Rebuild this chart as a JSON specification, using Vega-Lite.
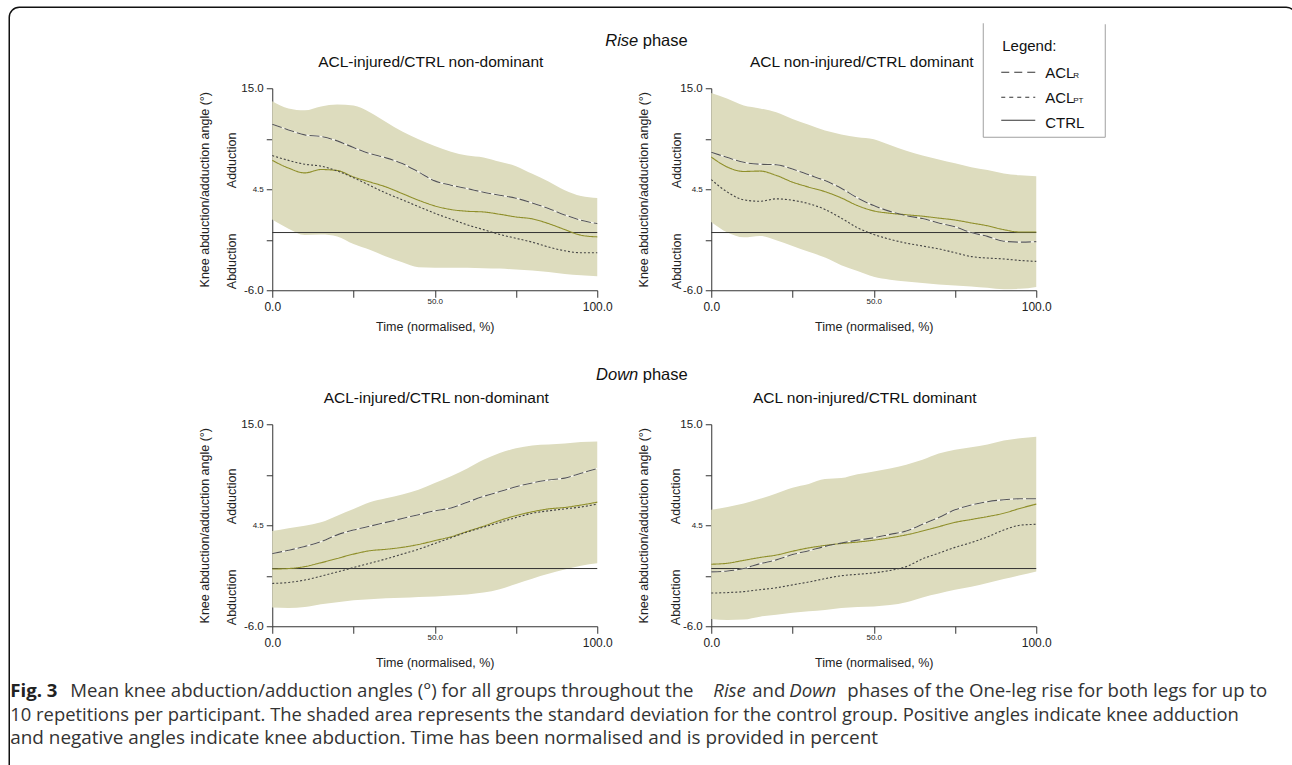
{
"$schema": "https://vega.github.io/schema/vega-lite/v6.json",
"background": "white",
"padding": {"left": 8.25, "top": 6.25, "right": 0, "bottom": 0},
"datasets": {"curves": [
{"p":"rn","t":0,"lo":1.35,"hi":13.65,"ctrl":7.5,"r":11.26,"pt":8.0},
{"p":"rn","t":5,"lo":0.4,"hi":12.9,"ctrl":6.7,"r":10.67,"pt":7.5},
{"p":"rn","t":10,"lo":-0.25,"hi":12.7,"ctrl":6.2,"r":10.15,"pt":7.1},
{"p":"rn","t":15,"lo":-0.2,"hi":13.1,"ctrl":6.55,"r":9.98,"pt":6.9},
{"p":"rn","t":20,"lo":-0.4,"hi":13.3,"ctrl":6.45,"r":9.53,"pt":6.4},
{"p":"rn","t":25,"lo":-1.2,"hi":13.2,"ctrl":5.78,"r":8.83,"pt":5.7},
{"p":"rn","t":30,"lo":-1.8,"hi":12.5,"ctrl":5.26,"r":8.21,"pt":4.9},
{"p":"rn","t":35,"lo":-2.5,"hi":11.5,"ctrl":4.74,"r":7.76,"pt":4.1},
{"p":"rn","t":40,"lo":-3.1,"hi":10.5,"ctrl":4.05,"r":7.17,"pt":3.4},
{"p":"rn","t":45,"lo":-3.6,"hi":9.7,"ctrl":3.36,"r":6.3,"pt":2.7},
{"p":"rn","t":50,"lo":-3.65,"hi":9.0,"ctrl":2.77,"r":5.37,"pt":2.0},
{"p":"rn","t":55,"lo":-3.65,"hi":8.4,"ctrl":2.39,"r":4.92,"pt":1.4},
{"p":"rn","t":60,"lo":-3.65,"hi":8.0,"ctrl":2.21,"r":4.57,"pt":0.8},
{"p":"rn","t":65,"lo":-3.7,"hi":7.8,"ctrl":2.14,"r":4.19,"pt":0.3},
{"p":"rn","t":70,"lo":-3.75,"hi":7.35,"ctrl":1.9,"r":3.88,"pt":-0.2},
{"p":"rn","t":75,"lo":-3.85,"hi":6.9,"ctrl":1.62,"r":3.57,"pt":-0.6},
{"p":"rn","t":80,"lo":-3.95,"hi":6.1,"ctrl":1.42,"r":3.08,"pt":-1.0},
{"p":"rn","t":85,"lo":-4.1,"hi":5.3,"ctrl":0.93,"r":2.49,"pt":-1.5},
{"p":"rn","t":90,"lo":-4.3,"hi":4.4,"ctrl":0.31,"r":1.83,"pt":-1.9},
{"p":"rn","t":95,"lo":-4.45,"hi":3.8,"ctrl":-0.28,"r":1.28,"pt":-2.1},
{"p":"rn","t":100,"lo":-4.55,"hi":3.6,"ctrl":-0.45,"r":0.93,"pt":-2.1},
{"p":"rd","t":0,"lo":1.1,"hi":14.5,"ctrl":7.85,"r":8.35,"pt":5.5},
{"p":"rd","t":5,"lo":0.0,"hi":13.9,"ctrl":6.8,"r":7.8,"pt":4.2},
{"p":"rd","t":10,"lo":-0.5,"hi":13.2,"ctrl":6.35,"r":7.3,"pt":3.4},
{"p":"rd","t":15,"lo":-0.35,"hi":12.9,"ctrl":6.39,"r":7.1,"pt":3.25},
{"p":"rd","t":20,"lo":-0.8,"hi":12.5,"ctrl":5.94,"r":7.05,"pt":3.5},
{"p":"rd","t":25,"lo":-1.4,"hi":11.8,"ctrl":5.24,"r":6.6,"pt":3.35},
{"p":"rd","t":30,"lo":-2.0,"hi":11.2,"ctrl":4.72,"r":6.0,"pt":3.0},
{"p":"rd","t":35,"lo":-2.6,"hi":10.6,"ctrl":4.25,"r":5.4,"pt":2.4},
{"p":"rd","t":40,"lo":-3.4,"hi":10.2,"ctrl":3.6,"r":4.6,"pt":1.5},
{"p":"rd","t":45,"lo":-4.0,"hi":9.9,"ctrl":2.8,"r":3.6,"pt":0.5},
{"p":"rd","t":50,"lo":-4.6,"hi":9.7,"ctrl":2.25,"r":2.8,"pt":-0.2},
{"p":"rd","t":55,"lo":-4.9,"hi":9.1,"ctrl":2.0,"r":2.2,"pt":-0.7},
{"p":"rd","t":60,"lo":-5.1,"hi":8.5,"ctrl":1.85,"r":1.75,"pt":-1.1},
{"p":"rd","t":65,"lo":-5.25,"hi":8.0,"ctrl":1.7,"r":1.45,"pt":-1.4},
{"p":"rd","t":70,"lo":-5.4,"hi":7.6,"ctrl":1.5,"r":1.0,"pt":-1.7},
{"p":"rd","t":75,"lo":-5.5,"hi":7.2,"ctrl":1.3,"r":0.6,"pt":-2.1},
{"p":"rd","t":80,"lo":-5.6,"hi":6.8,"ctrl":1.0,"r":0.0,"pt":-2.5},
{"p":"rd","t":85,"lo":-5.75,"hi":6.5,"ctrl":0.7,"r":-0.4,"pt":-2.65},
{"p":"rd","t":90,"lo":-5.9,"hi":6.15,"ctrl":0.3,"r":-0.9,"pt":-2.75},
{"p":"rd","t":95,"lo":-5.85,"hi":5.95,"ctrl":0.05,"r":-1.0,"pt":-2.9},
{"p":"rd","t":100,"lo":-5.65,"hi":5.85,"ctrl":0.05,"r":-0.95,"pt":-3.0},
{"p":"dn","t":0,"lo":-4.05,"hi":3.9,"ctrl":-0.05,"r":1.55,"pt":-1.55},
{"p":"dn","t":5,"lo":-4.1,"hi":4.2,"ctrl":0.0,"r":1.9,"pt":-1.45},
{"p":"dn","t":10,"lo":-4.0,"hi":4.45,"ctrl":0.2,"r":2.3,"pt":-1.2},
{"p":"dn","t":15,"lo":-3.7,"hi":4.8,"ctrl":0.6,"r":2.8,"pt":-0.8},
{"p":"dn","t":20,"lo":-3.5,"hi":5.5,"ctrl":1.05,"r":3.5,"pt":-0.35},
{"p":"dn","t":25,"lo":-3.3,"hi":6.2,"ctrl":1.5,"r":4.0,"pt":0.1},
{"p":"dn","t":30,"lo":-3.2,"hi":6.9,"ctrl":1.85,"r":4.4,"pt":0.55},
{"p":"dn","t":35,"lo":-3.1,"hi":7.3,"ctrl":2.0,"r":4.8,"pt":1.0},
{"p":"dn","t":40,"lo":-3.05,"hi":7.7,"ctrl":2.2,"r":5.2,"pt":1.5},
{"p":"dn","t":45,"lo":-2.95,"hi":8.2,"ctrl":2.5,"r":5.6,"pt":2.0},
{"p":"dn","t":50,"lo":-2.9,"hi":8.9,"ctrl":2.9,"r":6.0,"pt":2.6},
{"p":"dn","t":55,"lo":-2.8,"hi":9.6,"ctrl":3.3,"r":6.3,"pt":3.2},
{"p":"dn","t":60,"lo":-2.7,"hi":10.4,"ctrl":3.85,"r":6.9,"pt":3.8},
{"p":"dn","t":65,"lo":-2.5,"hi":11.3,"ctrl":4.4,"r":7.5,"pt":4.3},
{"p":"dn","t":70,"lo":-2.15,"hi":12.0,"ctrl":5.0,"r":8.0,"pt":4.8},
{"p":"dn","t":75,"lo":-1.6,"hi":12.5,"ctrl":5.5,"r":8.5,"pt":5.3},
{"p":"dn","t":80,"lo":-1.05,"hi":12.8,"ctrl":5.9,"r":8.9,"pt":5.75},
{"p":"dn","t":85,"lo":-0.55,"hi":12.9,"ctrl":6.2,"r":9.2,"pt":6.0},
{"p":"dn","t":90,"lo":-0.1,"hi":13.0,"ctrl":6.35,"r":9.4,"pt":6.2},
{"p":"dn","t":95,"lo":0.3,"hi":13.15,"ctrl":6.6,"r":9.9,"pt":6.4},
{"p":"dn","t":100,"lo":0.55,"hi":13.2,"ctrl":6.9,"r":10.4,"pt":6.7},
{"p":"dd","t":0,"lo":-5.25,"hi":6.1,"ctrl":0.45,"r":-0.35,"pt":-2.55},
{"p":"dd","t":5,"lo":-5.35,"hi":6.4,"ctrl":0.55,"r":-0.25,"pt":-2.5},
{"p":"dd","t":10,"lo":-5.3,"hi":6.75,"ctrl":0.85,"r":0.0,"pt":-2.4},
{"p":"dd","t":15,"lo":-5.0,"hi":7.25,"ctrl":1.15,"r":0.5,"pt":-2.2},
{"p":"dd","t":20,"lo":-4.8,"hi":7.8,"ctrl":1.4,"r":0.9,"pt":-2.0},
{"p":"dd","t":25,"lo":-4.6,"hi":8.4,"ctrl":1.8,"r":1.45,"pt":-1.7},
{"p":"dd","t":30,"lo":-4.45,"hi":8.8,"ctrl":2.15,"r":1.85,"pt":-1.4},
{"p":"dd","t":35,"lo":-4.3,"hi":9.3,"ctrl":2.4,"r":2.3,"pt":-1.05},
{"p":"dd","t":40,"lo":-4.1,"hi":9.4,"ctrl":2.6,"r":2.65,"pt":-0.75},
{"p":"dd","t":45,"lo":-4.0,"hi":9.8,"ctrl":2.75,"r":2.95,"pt":-0.6},
{"p":"dd","t":50,"lo":-3.95,"hi":10.1,"ctrl":2.95,"r":3.2,"pt":-0.45},
{"p":"dd","t":55,"lo":-3.8,"hi":10.4,"ctrl":3.2,"r":3.55,"pt":-0.2},
{"p":"dd","t":60,"lo":-3.5,"hi":10.8,"ctrl":3.5,"r":3.9,"pt":0.2},
{"p":"dd","t":65,"lo":-3.0,"hi":11.3,"ctrl":3.9,"r":4.6,"pt":1.0},
{"p":"dd","t":70,"lo":-2.6,"hi":11.95,"ctrl":4.35,"r":5.3,"pt":1.6},
{"p":"dd","t":75,"lo":-2.2,"hi":12.35,"ctrl":4.8,"r":6.1,"pt":2.2},
{"p":"dd","t":80,"lo":-1.9,"hi":12.6,"ctrl":5.1,"r":6.6,"pt":2.7},
{"p":"dd","t":85,"lo":-1.5,"hi":12.9,"ctrl":5.4,"r":6.95,"pt":3.3},
{"p":"dd","t":90,"lo":-1.1,"hi":13.3,"ctrl":5.75,"r":7.15,"pt":4.0},
{"p":"dd","t":95,"lo":-0.7,"hi":13.55,"ctrl":6.25,"r":7.25,"pt":4.5},
{"p":"dd","t":100,"lo":-0.3,"hi":13.7,"ctrl":6.7,"r":7.25,"pt":4.6}
]},
"columns": 2,
"spacing": {"row": 134, "column": 114},
"bounds": "flush",
"concat": [
{"width": 325, "height": 202,
 "title": {"text": "ACL-injured/CTRL non-dominant", "dx": -4},
 "data": {"name": "curves"},
 "transform": [{"filter": "datum.p == 'rn'"}],
 "encoding": {"x": {"field": "t", "type": "quantitative", "scale": {"domain": [0, 100]}, "axis": {"title": "Time (normalised, %)", "values": [0, 25, 50, 75, 100], "labelExpr": "datum.value == 0 ? '0.0' : datum.value == 50 ? '50.0' : datum.value == 100 ? '100.0' : ''", "labelFontSize": {"condition": {"test": "datum.value == 50", "value": 8}, "value": 12}, "labelBaseline": {"condition": {"test": "datum.value == 50", "value": "middle"}, "value": "top"}, "labelPadding": 4.5, "labelFlush": false, "labelOverlap": false, "tickSize": 7, "titlePadding": 8}}},
 "layer": [
  {"mark": {"type": "area", "color": "#dddcbe", "interpolate": "monotone"},
   "encoding": {"y": {"field": "lo", "type": "quantitative", "scale": {"domain": [-6, 15]}, "axis": {"title": "Knee abduction/adduction angle (°)", "values": [-6, -0.75, 4.5, 9.75, 15], "labelExpr": "datum.value == 15 ? '15.0' : datum.value == 4.5 ? '4.5' : datum.value == -6 ? '-6.0' : ''", "labelFontSize": {"condition": {"test": "datum.value == 4.5", "value": 8}, "value": 11.5}, "labelOverlap": false, "labelFlush": false, "tickSize": 6, "labelPadding": 3, "titlePadding": 29}}, "y2": {"field": "hi"}}},
  {"transform": [{"filter": "datum.t == 0"}], "mark": {"type": "rule", "color": "#333333", "strokeWidth": 1},
   "encoding": {"x": {"datum": 0, "type": "quantitative", "scale": {"domain": [0, 100]}}, "x2": {"datum": 100}, "y": {"datum": 0, "type": "quantitative", "scale": {"domain": [-6, 15]}}}},
  {"mark": {"type": "line", "color": "white", "strokeWidth": 1.3, "opacity": 0.8, "interpolate": "monotone"},
   "encoding": {"y": {"field": "r", "type": "quantitative", "scale": {"domain": [-6, 15]}}}},
  {"transform": [{"fold": ["ctrl", "r", "pt"], "as": ["series", "v"]}],
   "mark": {"type": "line", "strokeWidth": 1.1, "interpolate": "monotone"},
   "encoding": {"y": {"field": "v", "type": "quantitative", "scale": {"domain": [-6, 15]}},
     "color": {"field": "series", "type": "nominal", "scale": {"domain": ["ctrl", "r", "pt"], "range": ["#8f8f2a", "#555555", "#444444"]}, "legend": null},
     "strokeDash": {"field": "series", "type": "nominal", "scale": {"domain": ["ctrl", "r", "pt"], "range": [[1, 0], [10, 3], [2, 2]]}, "legend": null}}},
  {"transform": [{"filter": "datum.t == 0"}], "mark": {"type": "text", "text": "Adduction", "angle": 270, "fontSize": 12.5, "color": "#222222", "align": "center", "baseline": "middle"},
   "encoding": {"x": {"datum": -12.5, "type": "quantitative", "scale": {"domain": [0, 100]}}, "y": {"datum": 7.5, "type": "quantitative", "scale": {"domain": [-6, 15]}}}},
  {"transform": [{"filter": "datum.t == 0"}], "mark": {"type": "text", "text": "Abduction", "angle": 270, "fontSize": 12.5, "color": "#222222", "align": "center", "baseline": "middle"},
   "encoding": {"x": {"datum": -12.5, "type": "quantitative", "scale": {"domain": [0, 100]}}, "y": {"datum": -3, "type": "quantitative", "scale": {"domain": [-6, 15]}}}}
 ]},
{"width": 325, "height": 202,
 "title": {"text": "ACL non-injured/CTRL dominant", "dx": -12},
 "data": {"name": "curves"},
 "transform": [{"filter": "datum.p == 'rd'"}],
 "encoding": {"x": {"field": "t", "type": "quantitative", "scale": {"domain": [0, 100]}, "axis": {"title": "Time (normalised, %)", "values": [0, 25, 50, 75, 100], "labelExpr": "datum.value == 0 ? '0.0' : datum.value == 50 ? '50.0' : datum.value == 100 ? '100.0' : ''", "labelFontSize": {"condition": {"test": "datum.value == 50", "value": 8}, "value": 12}, "labelBaseline": {"condition": {"test": "datum.value == 50", "value": "middle"}, "value": "top"}, "labelPadding": 4.5, "labelFlush": false, "labelOverlap": false, "tickSize": 7, "titlePadding": 8}}},
 "layer": [
  {"mark": {"type": "area", "color": "#dddcbe", "interpolate": "monotone"},
   "encoding": {"y": {"field": "lo", "type": "quantitative", "scale": {"domain": [-6, 15]}, "axis": {"title": "Knee abduction/adduction angle (°)", "values": [-6, -0.75, 4.5, 9.75, 15], "labelExpr": "datum.value == 15 ? '15.0' : datum.value == 4.5 ? '4.5' : datum.value == -6 ? '-6.0' : ''", "labelFontSize": {"condition": {"test": "datum.value == 4.5", "value": 8}, "value": 11.5}, "labelOverlap": false, "labelFlush": false, "tickSize": 6, "labelPadding": 3, "titlePadding": 29}}, "y2": {"field": "hi"}}},
  {"transform": [{"filter": "datum.t == 0"}], "mark": {"type": "rule", "color": "#333333", "strokeWidth": 1},
   "encoding": {"x": {"datum": 0, "type": "quantitative", "scale": {"domain": [0, 100]}}, "x2": {"datum": 100}, "y": {"datum": 0, "type": "quantitative", "scale": {"domain": [-6, 15]}}}},
  {"mark": {"type": "line", "color": "white", "strokeWidth": 1.3, "opacity": 0.8, "interpolate": "monotone"},
   "encoding": {"y": {"field": "r", "type": "quantitative", "scale": {"domain": [-6, 15]}}}},
  {"transform": [{"fold": ["ctrl", "r", "pt"], "as": ["series", "v"]}],
   "mark": {"type": "line", "strokeWidth": 1.1, "interpolate": "monotone"},
   "encoding": {"y": {"field": "v", "type": "quantitative", "scale": {"domain": [-6, 15]}},
     "color": {"field": "series", "type": "nominal", "scale": {"domain": ["ctrl", "r", "pt"], "range": ["#8f8f2a", "#555555", "#444444"]}, "legend": null},
     "strokeDash": {"field": "series", "type": "nominal", "scale": {"domain": ["ctrl", "r", "pt"], "range": [[1, 0], [10, 3], [2, 2]]}, "legend": null}}},
  {"transform": [{"filter": "datum.t == 0"}], "mark": {"type": "text", "text": "Adduction", "angle": 270, "fontSize": 12.5, "color": "#222222", "align": "center", "baseline": "middle"},
   "encoding": {"x": {"datum": -10.5, "type": "quantitative", "scale": {"domain": [0, 100]}}, "y": {"datum": 7.5, "type": "quantitative", "scale": {"domain": [-6, 15]}}}},
  {"transform": [{"filter": "datum.t == 0"}], "mark": {"type": "text", "text": "Abduction", "angle": 270, "fontSize": 12.5, "color": "#222222", "align": "center", "baseline": "middle"},
   "encoding": {"x": {"datum": -10.5, "type": "quantitative", "scale": {"domain": [0, 100]}}, "y": {"datum": -3, "type": "quantitative", "scale": {"domain": [-6, 15]}}}}
 ]},
{"width": 325, "height": 202,
 "title": {"text": "ACL-injured/CTRL non-dominant", "dx": 1.5},
 "data": {"name": "curves"},
 "transform": [{"filter": "datum.p == 'dn'"}],
 "encoding": {"x": {"field": "t", "type": "quantitative", "scale": {"domain": [0, 100]}, "axis": {"title": "Time (normalised, %)", "values": [0, 25, 50, 75, 100], "labelExpr": "datum.value == 0 ? '0.0' : datum.value == 50 ? '50.0' : datum.value == 100 ? '100.0' : ''", "labelFontSize": {"condition": {"test": "datum.value == 50", "value": 8}, "value": 12}, "labelBaseline": {"condition": {"test": "datum.value == 50", "value": "middle"}, "value": "top"}, "labelPadding": 4.5, "labelFlush": false, "labelOverlap": false, "tickSize": 7, "titlePadding": 8}}},
 "layer": [
  {"mark": {"type": "area", "color": "#dddcbe", "interpolate": "monotone"},
   "encoding": {"y": {"field": "lo", "type": "quantitative", "scale": {"domain": [-6, 15]}, "axis": {"title": "Knee abduction/adduction angle (°)", "values": [-6, -0.75, 4.5, 9.75, 15], "labelExpr": "datum.value == 15 ? '15.0' : datum.value == 4.5 ? '4.5' : datum.value == -6 ? '-6.0' : ''", "labelFontSize": {"condition": {"test": "datum.value == 4.5", "value": 8}, "value": 11.5}, "labelOverlap": false, "labelFlush": false, "tickSize": 6, "labelPadding": 3, "titlePadding": 29}}, "y2": {"field": "hi"}}},
  {"transform": [{"filter": "datum.t == 0"}], "mark": {"type": "rule", "color": "#333333", "strokeWidth": 1},
   "encoding": {"x": {"datum": 0, "type": "quantitative", "scale": {"domain": [0, 100]}}, "x2": {"datum": 100}, "y": {"datum": 0, "type": "quantitative", "scale": {"domain": [-6, 15]}}}},
  {"mark": {"type": "line", "color": "white", "strokeWidth": 1.3, "opacity": 0.8, "interpolate": "monotone"},
   "encoding": {"y": {"field": "r", "type": "quantitative", "scale": {"domain": [-6, 15]}}}},
  {"transform": [{"fold": ["ctrl", "r", "pt"], "as": ["series", "v"]}],
   "mark": {"type": "line", "strokeWidth": 1.1, "interpolate": "monotone"},
   "encoding": {"y": {"field": "v", "type": "quantitative", "scale": {"domain": [-6, 15]}},
     "color": {"field": "series", "type": "nominal", "scale": {"domain": ["ctrl", "r", "pt"], "range": ["#8f8f2a", "#555555", "#444444"]}, "legend": null},
     "strokeDash": {"field": "series", "type": "nominal", "scale": {"domain": ["ctrl", "r", "pt"], "range": [[1, 0], [10, 3], [2, 2]]}, "legend": null}}},
  {"transform": [{"filter": "datum.t == 0"}], "mark": {"type": "text", "text": "Adduction", "angle": 270, "fontSize": 12.5, "color": "#222222", "align": "center", "baseline": "middle"},
   "encoding": {"x": {"datum": -12.5, "type": "quantitative", "scale": {"domain": [0, 100]}}, "y": {"datum": 7.5, "type": "quantitative", "scale": {"domain": [-6, 15]}}}},
  {"transform": [{"filter": "datum.t == 0"}], "mark": {"type": "text", "text": "Abduction", "angle": 270, "fontSize": 12.5, "color": "#222222", "align": "center", "baseline": "middle"},
   "encoding": {"x": {"datum": -12.5, "type": "quantitative", "scale": {"domain": [0, 100]}}, "y": {"datum": -3, "type": "quantitative", "scale": {"domain": [-6, 15]}}}}
 ]},
{"width": 325, "height": 202,
 "title": {"text": "ACL non-injured/CTRL dominant", "dx": -9},
 "data": {"name": "curves"},
 "transform": [{"filter": "datum.p == 'dd'"}],
 "encoding": {"x": {"field": "t", "type": "quantitative", "scale": {"domain": [0, 100]}, "axis": {"title": "Time (normalised, %)", "values": [0, 25, 50, 75, 100], "labelExpr": "datum.value == 0 ? '0.0' : datum.value == 50 ? '50.0' : datum.value == 100 ? '100.0' : ''", "labelFontSize": {"condition": {"test": "datum.value == 50", "value": 8}, "value": 12}, "labelBaseline": {"condition": {"test": "datum.value == 50", "value": "middle"}, "value": "top"}, "labelPadding": 4.5, "labelFlush": false, "labelOverlap": false, "tickSize": 7, "titlePadding": 8}}},
 "layer": [
  {"mark": {"type": "area", "color": "#dddcbe", "interpolate": "monotone"},
   "encoding": {"y": {"field": "lo", "type": "quantitative", "scale": {"domain": [-6, 15]}, "axis": {"title": "Knee abduction/adduction angle (°)", "values": [-6, -0.75, 4.5, 9.75, 15], "labelExpr": "datum.value == 15 ? '15.0' : datum.value == 4.5 ? '4.5' : datum.value == -6 ? '-6.0' : ''", "labelFontSize": {"condition": {"test": "datum.value == 4.5", "value": 8}, "value": 11.5}, "labelOverlap": false, "labelFlush": false, "tickSize": 6, "labelPadding": 3, "titlePadding": 29}}, "y2": {"field": "hi"}}},
  {"transform": [{"filter": "datum.t == 0"}], "mark": {"type": "rule", "color": "#333333", "strokeWidth": 1},
   "encoding": {"x": {"datum": 0, "type": "quantitative", "scale": {"domain": [0, 100]}}, "x2": {"datum": 100}, "y": {"datum": 0, "type": "quantitative", "scale": {"domain": [-6, 15]}}}},
  {"mark": {"type": "line", "color": "white", "strokeWidth": 1.3, "opacity": 0.8, "interpolate": "monotone"},
   "encoding": {"y": {"field": "r", "type": "quantitative", "scale": {"domain": [-6, 15]}}}},
  {"transform": [{"fold": ["ctrl", "r", "pt"], "as": ["series", "v"]}],
   "mark": {"type": "line", "strokeWidth": 1.1, "interpolate": "monotone"},
   "encoding": {"y": {"field": "v", "type": "quantitative", "scale": {"domain": [-6, 15]}},
     "color": {"field": "series", "type": "nominal", "scale": {"domain": ["ctrl", "r", "pt"], "range": ["#8f8f2a", "#555555", "#444444"]}, "legend": null},
     "strokeDash": {"field": "series", "type": "nominal", "scale": {"domain": ["ctrl", "r", "pt"], "range": [[1, 0], [10, 3], [2, 2]]}, "legend": null}}},
  {"transform": [{"filter": "datum.t == 0"}], "mark": {"type": "text", "text": "Adduction", "angle": 270, "fontSize": 12.5, "color": "#222222", "align": "center", "baseline": "middle"},
   "encoding": {"x": {"datum": -11, "type": "quantitative", "scale": {"domain": [0, 100]}}, "y": {"datum": 7.5, "type": "quantitative", "scale": {"domain": [-6, 15]}}}},
  {"transform": [{"filter": "datum.t == 0"}], "mark": {"type": "text", "text": "Abduction", "angle": 270, "fontSize": 12.5, "color": "#222222", "align": "center", "baseline": "middle"},
   "encoding": {"x": {"datum": -11, "type": "quantitative", "scale": {"domain": [0, 100]}}, "y": {"datum": -3, "type": "quantitative", "scale": {"domain": [-6, 15]}}}}
 ]},
{"width": 325, "height": 80,
 "data": {"values": [{}]},
 "layer": [
  {"mark": {"type": "rule", "color": "#a0a0a0", "strokeWidth": 1},
   "encoding": {"x": {"datum": 983, "type": "quantitative", "scale": {"domain": [272, 597]}, "axis": null}, "y": {"datum": 23, "type": "quantitative", "scale": {"domain": [760, 840], "reverse": true}, "axis": null}, "y2": {"datum": 137}}},
  {"mark": {"type": "rule", "color": "#a0a0a0", "strokeWidth": 1},
   "encoding": {"x": {"datum": 1105, "type": "quantitative", "scale": {"domain": [272, 597]}, "axis": null}, "y": {"datum": 24, "type": "quantitative", "scale": {"domain": [760, 840], "reverse": true}, "axis": null}, "y2": {"datum": 137}}},
  {"mark": {"type": "rule", "color": "#a0a0a0", "strokeWidth": 1},
   "encoding": {"x": {"datum": 983, "type": "quantitative", "scale": {"domain": [272, 597]}, "axis": null}, "x2": {"datum": 1105}, "y": {"datum": 137, "type": "quantitative", "scale": {"domain": [760, 840], "reverse": true}, "axis": null}}},
  {"mark": {"type": "rect", "fill": "white", "fillOpacity": 0, "stroke": "#111111", "strokeWidth": 1.5, "cornerRadius": 10},
   "encoding": {"x": {"datum": 9, "type": "quantitative", "scale": {"domain": [272, 597]}, "axis": null}, "x2": {"datum": 1296}, "y": {"datum": 7, "type": "quantitative", "scale": {"domain": [760, 840], "reverse": true}, "axis": null}, "y2": {"datum": 780}}},
  {"mark": {"type": "text", "text": "Legend:", "align": "left", "baseline": "alphabetic", "fontSize": 15, "color": "#111111"},
   "encoding": {"x": {"datum": 1002, "type": "quantitative", "scale": {"domain": [272, 597]}, "axis": null}, "y": {"datum": 51, "type": "quantitative", "scale": {"domain": [760, 840], "reverse": true}, "axis": null}}},
  {"mark": {"type": "rule", "color": "#333333", "strokeWidth": 1.1, "strokeDash": [8, 5]},
   "encoding": {"x": {"datum": 1001, "type": "quantitative", "scale": {"domain": [272, 597]}, "axis": null}, "x2": {"datum": 1035}, "y": {"datum": 72, "type": "quantitative", "scale": {"domain": [760, 840], "reverse": true}, "axis": null}}},
  {"mark": {"type": "rule", "color": "#333333", "strokeWidth": 1.1, "strokeDash": [4, 4]},
   "encoding": {"x": {"datum": 1001, "type": "quantitative", "scale": {"domain": [272, 597]}, "axis": null}, "x2": {"datum": 1035}, "y": {"datum": 97, "type": "quantitative", "scale": {"domain": [760, 840], "reverse": true}, "axis": null}}},
  {"mark": {"type": "rule", "color": "#333333", "strokeWidth": 1.1},
   "encoding": {"x": {"datum": 1001, "type": "quantitative", "scale": {"domain": [272, 597]}, "axis": null}, "x2": {"datum": 1035}, "y": {"datum": 120, "type": "quantitative", "scale": {"domain": [760, 840], "reverse": true}, "axis": null}}},
  {"mark": {"type": "text", "text": "ACL", "align": "left", "baseline": "alphabetic", "fontSize": 15, "color": "#111111"},
   "encoding": {"x": {"datum": 1045, "type": "quantitative", "scale": {"domain": [272, 597]}, "axis": null}, "y": {"datum": 78, "type": "quantitative", "scale": {"domain": [760, 840], "reverse": true}, "axis": null}}},
  {"mark": {"type": "text", "text": "R", "align": "left", "baseline": "alphabetic", "fontSize": 8, "color": "#111111"},
   "encoding": {"x": {"datum": 1073, "type": "quantitative", "scale": {"domain": [272, 597]}, "axis": null}, "y": {"datum": 78, "type": "quantitative", "scale": {"domain": [760, 840], "reverse": true}, "axis": null}}},
  {"mark": {"type": "text", "text": "ACL", "align": "left", "baseline": "alphabetic", "fontSize": 15, "color": "#111111"},
   "encoding": {"x": {"datum": 1045, "type": "quantitative", "scale": {"domain": [272, 597]}, "axis": null}, "y": {"datum": 103, "type": "quantitative", "scale": {"domain": [760, 840], "reverse": true}, "axis": null}}},
  {"mark": {"type": "text", "text": "PT", "align": "left", "baseline": "alphabetic", "fontSize": 8, "color": "#111111"},
   "encoding": {"x": {"datum": 1073, "type": "quantitative", "scale": {"domain": [272, 597]}, "axis": null}, "y": {"datum": 103, "type": "quantitative", "scale": {"domain": [760, 840], "reverse": true}, "axis": null}}},
  {"mark": {"type": "text", "text": "CTRL", "align": "left", "baseline": "alphabetic", "fontSize": 15, "color": "#111111"},
   "encoding": {"x": {"datum": 1045, "type": "quantitative", "scale": {"domain": [272, 597]}, "axis": null}, "y": {"datum": 127.5, "type": "quantitative", "scale": {"domain": [760, 840], "reverse": true}, "axis": null}}},
  {"mark": {"type": "text", "text": "Rise", "align": "right", "baseline": "alphabetic", "fontSize": 16.5, "fontStyle": "italic", "color": "#111111"},
   "encoding": {"x": {"datum": 638, "type": "quantitative", "scale": {"domain": [272, 597]}, "axis": null}, "y": {"datum": 46, "type": "quantitative", "scale": {"domain": [760, 840], "reverse": true}, "axis": null}}},
  {"mark": {"type": "text", "text": "phase", "align": "left", "baseline": "alphabetic", "fontSize": 16.5, "color": "#111111"},
   "encoding": {"x": {"datum": 642.5, "type": "quantitative", "scale": {"domain": [272, 597]}, "axis": null}, "y": {"datum": 46, "type": "quantitative", "scale": {"domain": [760, 840], "reverse": true}, "axis": null}}},
  {"mark": {"type": "text", "text": "Down", "align": "right", "baseline": "alphabetic", "fontSize": 16.5, "fontStyle": "italic", "color": "#111111"},
   "encoding": {"x": {"datum": 638, "type": "quantitative", "scale": {"domain": [272, 597]}, "axis": null}, "y": {"datum": 380, "type": "quantitative", "scale": {"domain": [760, 840], "reverse": true}, "axis": null}}},
  {"mark": {"type": "text", "text": "phase", "align": "left", "baseline": "alphabetic", "fontSize": 16.5, "color": "#111111"},
   "encoding": {"x": {"datum": 642.5, "type": "quantitative", "scale": {"domain": [272, 597]}, "axis": null}, "y": {"datum": 380, "type": "quantitative", "scale": {"domain": [760, 840], "reverse": true}, "axis": null}}},
  {"mark": {"type": "text", "text": "Fig. 3", "align": "left", "baseline": "alphabetic", "font": "Open Sans", "fontSize": 18.6, "fontWeight": "bold", "color": "#222222"},
   "encoding": {"x": {"datum": 10, "type": "quantitative", "scale": {"domain": [272, 597]}, "axis": null}, "y": {"datum": 697, "type": "quantitative", "scale": {"domain": [760, 840], "reverse": true}, "axis": null}}},
  {"mark": {"type": "text", "text": "Mean knee abduction/adduction angles (°) for all groups throughout the", "align": "left", "baseline": "alphabetic", "font": "Open Sans", "fontSize": 18.6, "color": "#333333"},
   "encoding": {"x": {"datum": 70, "type": "quantitative", "scale": {"domain": [272, 597]}, "axis": null}, "y": {"datum": 697, "type": "quantitative", "scale": {"domain": [760, 840], "reverse": true}, "axis": null}}},
  {"mark": {"type": "text", "text": "Rise", "align": "left", "baseline": "alphabetic", "font": "Open Sans", "fontSize": 18.6, "fontStyle": "italic", "color": "#333333"},
   "encoding": {"x": {"datum": 713, "type": "quantitative", "scale": {"domain": [272, 597]}, "axis": null}, "y": {"datum": 697, "type": "quantitative", "scale": {"domain": [760, 840], "reverse": true}, "axis": null}}},
  {"mark": {"type": "text", "text": "and", "align": "left", "baseline": "alphabetic", "font": "Open Sans", "fontSize": 18.6, "color": "#333333"},
   "encoding": {"x": {"datum": 752, "type": "quantitative", "scale": {"domain": [272, 597]}, "axis": null}, "y": {"datum": 697, "type": "quantitative", "scale": {"domain": [760, 840], "reverse": true}, "axis": null}}},
  {"mark": {"type": "text", "text": "Down", "align": "left", "baseline": "alphabetic", "font": "Open Sans", "fontSize": 18.6, "fontStyle": "italic", "color": "#333333"},
   "encoding": {"x": {"datum": 789, "type": "quantitative", "scale": {"domain": [272, 597]}, "axis": null}, "y": {"datum": 697, "type": "quantitative", "scale": {"domain": [760, 840], "reverse": true}, "axis": null}}},
  {"mark": {"type": "text", "text": "phases of the One-leg rise for both legs for up to", "align": "left", "baseline": "alphabetic", "font": "Open Sans", "fontSize": 18.6, "color": "#333333"},
   "encoding": {"x": {"datum": 847, "type": "quantitative", "scale": {"domain": [272, 597]}, "axis": null}, "y": {"datum": 697, "type": "quantitative", "scale": {"domain": [760, 840], "reverse": true}, "axis": null}}},
  {"mark": {"type": "text", "text": "10 repetitions per participant. The shaded area represents the standard deviation for the control group. Positive angles indicate knee adduction", "align": "left", "baseline": "alphabetic", "font": "Open Sans", "fontSize": 18.4, "color": "#333333"},
   "encoding": {"x": {"datum": 10, "type": "quantitative", "scale": {"domain": [272, 597]}, "axis": null}, "y": {"datum": 720.5, "type": "quantitative", "scale": {"domain": [760, 840], "reverse": true}, "axis": null}}},
  {"mark": {"type": "text", "text": "and negative angles indicate knee abduction. Time has been normalised and is provided in percent", "align": "left", "baseline": "alphabetic", "font": "Open Sans", "fontSize": 18.9, "color": "#333333"},
   "encoding": {"x": {"datum": 10, "type": "quantitative", "scale": {"domain": [272, 597]}, "axis": null}, "y": {"datum": 744, "type": "quantitative", "scale": {"domain": [760, 840], "reverse": true}, "axis": null}}}
 ]}
],
"config": {
 "view": {"stroke": null},
 "font": "Liberation Sans",
 "title": {"font": "Liberation Sans", "fontSize": 15.5, "fontWeight": "normal", "color": "#111111", "frame": "group", "offset": 12},
 "axis": {"grid": false, "domainColor": "#333333", "tickColor": "#333333", "labelColor": "#222222", "titleColor": "#222222", "labelFont": "Liberation Sans", "titleFont": "Liberation Sans", "titleFontWeight": "normal", "titleFontSize": 12.5},
 "text": {"font": "Liberation Sans"}
}
}
